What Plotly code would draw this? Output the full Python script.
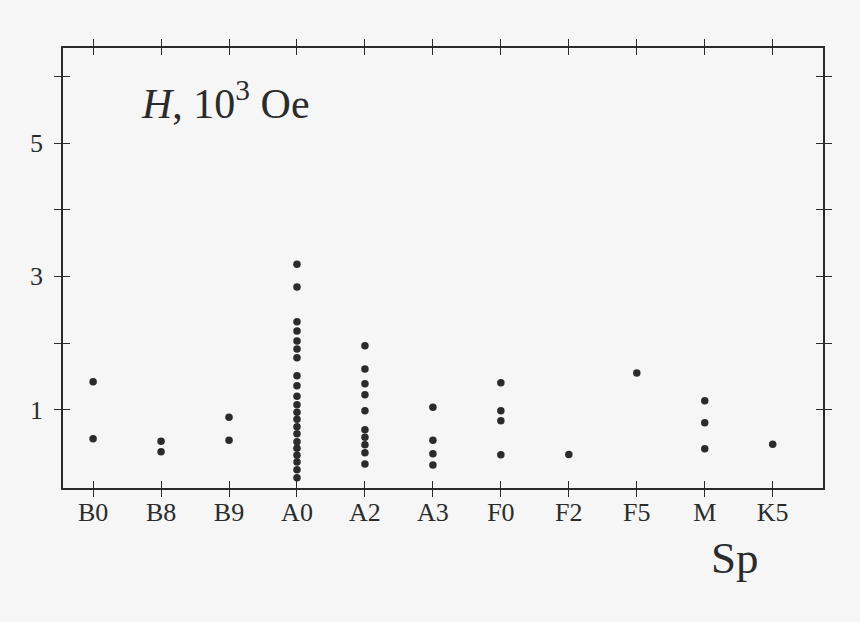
"""Field strength H of magnetic stars by spectral class."""

import plotly.graph_objects as go

spectral_classes = ['B0', 'B8', 'B9', 'A0', 'A2', 'A3', 'F0', 'F2', 'F5', 'M', 'K5']

# H, 10^3 Oe for each class
h_b0 = [1.42, 0.565]
h_b8 = [0.525, 0.37]
h_b9 = [0.885, 0.54]
h_a0 = [3.18, 2.84, 2.32, 2.18, 2.03, 1.91, 1.78, 1.51, 1.36, 1.20, 1.075,
        0.96, 0.855, 0.745, 0.64, 0.52, 0.42, 0.315, 0.215, 0.10, -0.02]
h_a2 = [1.96, 1.61, 1.39, 1.225, 0.985, 0.70, 0.585, 0.475, 0.355, 0.185]
h_a3 = [1.035, 0.54, 0.34, 0.17]
h_f0 = [1.405, 0.985, 0.835, 0.325]
h_f2 = [0.326]
h_f5 = [1.55]
h_m = [1.135, 0.805, 0.415]
h_k5 = [0.48]

y_tick_vals = [1, 2, 3, 4, 5, 6]
y_tick_text = ['1', '', '3', '', '5', '']

groups = [h_b0, h_b8, h_b9, h_a0, h_a2, h_a3, h_f0, h_f2, h_f5, h_m, h_k5]
x_data, y_data = [], []
for i, vals in enumerate(groups):
    x_data += [i] * len(vals)
    y_data += vals

ink = '#2b2b2b'
bg = '#f6f6f6'
serif = 'Liberation Serif, Times New Roman, serif'
x_range = [-0.443, 10.74]
y_range = [-0.175, 6.425]

# Create the figure
fig = go.Figure()
fig.add_trace(go.Scatter(x=x_data, y=y_data, mode='markers',
                         marker=dict(size=7.5, color=ink),
                         showlegend=False))
# invisible trace so the second pair of axes gets drawn
fig.add_trace(go.Scatter(x=[None], y=[None], xaxis='x2', yaxis='y2',
                         showlegend=False, hoverinfo='skip'))

common = dict(showgrid=False, zeroline=False, showline=True, linecolor=ink,
              linewidth=1.6, tickcolor=ink, tickwidth=1.4, ticklen=7,
              mirror='allticks')

# Configure the figure
fig.update_layout(
    width=860, height=622,
    margin=dict(l=63, r=37, t=48, b=134),
    paper_bgcolor=bg, plot_bgcolor=bg,
    font=dict(family=serif, size=26, color=ink),
    xaxis=dict(range=x_range, tickvals=list(range(len(spectral_classes))),
               ticktext=spectral_classes, ticks='inside', **common),
    yaxis=dict(range=y_range, tickvals=y_tick_vals, ticktext=y_tick_text,
               ticks='outside', ticklabelstandoff=6, **common),
    xaxis2=dict(range=x_range, overlaying='x', anchor='y2',
                tickvals=list(range(len(spectral_classes))),
                showticklabels=False, ticks='outside', **common),
    yaxis2=dict(range=y_range, overlaying='y', anchor='x2',
                tickvals=y_tick_vals, showticklabels=False,
                ticks='inside', **common),
)

fig.add_annotation(text='<i>H</i>, 10<sup>3</sup> Oe', xref='paper', yref='paper',
                   x=(139 - 63) / 760, y=1 - (100 - 48) / 440,
                   xanchor='left', yanchor='middle', showarrow=False,
                   font=dict(family=serif, size=42, color=ink))
fig.add_annotation(text='Sp', xref='paper', yref='paper',
                   x=(735 - 63) / 760, y=-(558 - 488) / 440,
                   xanchor='center', yanchor='middle', showarrow=False,
                   font=dict(family=serif, size=45, color=ink))

# drop the default page margin so the figure fills the window
fig.write_html('out.html', config={'displayModeBar': False},
               post_script="document.body.style.margin='0px';"
                           "document.body.style.background='" + bg + "';")
